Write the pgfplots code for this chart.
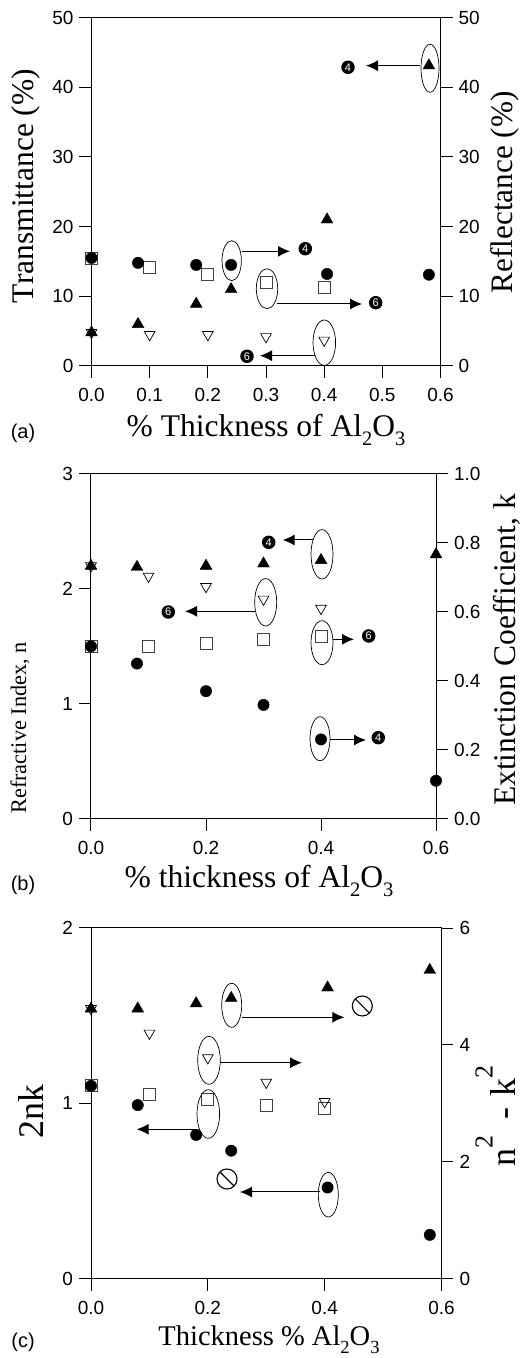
\documentclass[border=0pt]{standalone}
\usepackage{pgfplots}
\pgfplotsset{compat=1.18}
\usepackage{fontspec}
\setmainfont{Liberation Serif}
\newfontfamily\hv{Liberation Sans}
\usetikzlibrary{arrows.meta}
\newcommand{\sbs}[1]{\raisebox{-0.28em}{\scalebox{0.65}{#1}}}
\newcommand{\sps}[1]{\raisebox{0.62em}{\scalebox{0.72}{#1}}}
\pgfplotsset{
  panel/.style={scale only axis, width=#1, clip=false,
    /pgf/number format/assume math mode=true,
    tick align=outside, major tick length=12pt,
    axis line style={line width=1pt}, tick style={line width=1pt,black},
    ticklabel style={font=\hv\fontsize{19}{19}\selectfont},
    xticklabel style={/pgf/number format/fixed,/pgf/number format/fixed zerofill,/pgf/number format/precision=1, yshift=-7pt},
    scaled ticks=false},
  lft/.style={yticklabel style={xshift=-2.5pt}},
  rgt/.style={yticklabel style={xshift=2.5pt}},
  fc/.style={only marks, mark=*, mark size=5.7pt, mark options={fill=black,draw=black}},
  ft/.style={only marks, mark=triangle*, mark size=6.8pt, mark options={fill=black,draw=black}},
  os/.style={only marks, mark=square, mark size=6pt, mark options={draw=black!75,line width=0.7pt}},
  ot/.style={only marks, mark=triangle, mark size=6.2pt, mark options={draw=black,rotate=180,line width=0.7pt}},
}
\tikzset{
  arr/.style={line width=1pt,-{Latex[length=12pt,width=11pt]}},
  ell/.style={line width=0.7pt},
  num/.style={circle,fill=black,inner sep=0pt,minimum size=13.5pt,text=white,font=\hv\fontsize{11}{11}\selectfont},
}
\begin{document}
\begin{tikzpicture}
\path[use as bounding box] (0pt,0pt) rectangle (520pt,1358pt);
% ---- (a)
\begin{axis}[panel=349pt, lft, height=348.5pt, at={(91.5pt,992pt)}, anchor=south west,
  xmin=0,xmax=0.6,ymin=0,ymax=50, ytick={0,10,...,50},
  tick pos=left, xticklabels={0.0,0.1,0.2,0.3,0.4,0.5,0.6}, xtick={0,0.1,0.2,0.3,0.4,0.5,0.6}]
\addplot[ot] coordinates {(0,4.8)(0.1,4.5)(0.2,4.5)(0.3,4.2)(0.4,3.7)};
\addplot[ft] coordinates {(0,4.8)(0.08,6.0)(0.18,8.9)(0.24,11)(0.405,21)(0.58,43.1)};
\end{axis}
\begin{axis}[panel=349pt, rgt, height=348.5pt, at={(91.5pt,992pt)}, anchor=south west,
  xmin=0,xmax=0.6,ymin=0,ymax=50, ytick={0,10,...,50},
  axis x line=none, axis y line*=right]
\addplot[os] coordinates {(0,15.5)(0.1,14.2)(0.2,13.2)(0.3,12)(0.4,11.3)};
\addplot[fc] coordinates {(0,15.5)(0.08,14.8)(0.18,14.5)(0.24,14.5)(0.405,13.2)(0.58,13.1)};
\end{axis}
% ---- (b)
\begin{axis}[panel=345pt, lft, height=344.7pt, at={(91pt,539.3pt)}, anchor=south west,
  xmin=0,xmax=0.6,ymin=0,ymax=3, xtick={0,0.2,0.4,0.6}, xticklabels={0.0,0.2,0.4,0.6}, ytick={0,1,2,3},
  tick pos=left]
\addplot[ot] coordinates {(0,2.2)(0.1,2.11)(0.2,2.02)(0.3,1.91)(0.4,1.83)};
\addplot[ft] coordinates {(0,2.2)(0.08,2.19)(0.2,2.2)(0.3,2.22)(0.4,2.25)(0.6,2.3)};
\end{axis}
\begin{axis}[panel=345pt, rgt, height=344.7pt, at={(91pt,539.3pt)}, anchor=south west,
  xmin=0,xmax=0.6,ymin=0,ymax=1, ytick={0,0.2,0.4,0.6,0.8,1.0},
  yticklabels={0.0,0.2,0.4,0.6,0.8,1.0},
  axis x line=none, axis y line*=right]
\addplot[os] coordinates {(0,0.5)(0.1,0.5)(0.2,0.51)(0.3,0.52)(0.4,0.53)};
\addplot[fc] coordinates {(0,0.5)(0.08,0.45)(0.2,0.37)(0.3,0.33)(0.4,0.23)(0.6,0.11)};
\end{axis}
% ---- (c)
\begin{axis}[panel=350.5pt, lft, height=350.7pt, at={(91pt,79.3pt)}, anchor=south west,
  xmin=0,xmax=0.6,ymin=0,ymax=2, xtick={0,0.2,0.4,0.6}, xticklabels={0.0,0.2,0.4,0.6}, ytick={0,1,2},
  tick pos=left]
\addplot[os] coordinates {(0,1.1)(0.1,1.05)(0.2,1.02)(0.3,0.99)(0.4,0.97)};
\addplot[fc] coordinates {(0,1.1)(0.08,0.99)(0.18,0.82)(0.24,0.73)(0.405,0.52)(0.58,0.25)};
\end{axis}
\begin{axis}[panel=350.5pt, rgt, height=350.7pt, at={(91pt,79.3pt)}, anchor=south west,
  xmin=0,xmax=0.6,ymin=0,ymax=6, ytick={0,2,4,6},
  axis x line=none, axis y line*=right]
\addplot[ot] coordinates {(0,4.62)(0.1,4.2)(0.2,3.78)(0.3,3.36)(0.4,3.03)};
\addplot[ft] coordinates {(0,4.62)(0.08,4.62)(0.18,4.71)(0.24,4.8)(0.405,4.98)(0.58,5.28)};
\end{axis}
% ---- annotations in image pixels
\begin{scope}[x=1pt,y=-1pt,yshift=1358pt]
% a
\draw[ell] (430,68.3) ellipse (9 and 24);
\draw[ell] (231.7,260.7) ellipse (9.7 and 20);
\draw[ell] (267,288.7) ellipse (10.7 and 20);
\draw[ell] (324.3,342.7) ellipse (11.3 and 22.7);
\draw[arr] (420,65.7)--(366,65.7);
\draw[arr] (241.7,251.3)--(290,251.3);
\draw[arr] (276.7,304)--(362,304);
\draw[arr] (315,355.7)--(260,355.7);
\node[num] at (348,67.3) {4};
\node[num] at (305.3,248.7) {4};
\node[num] at (375.7,302.7) {6};
\node[num] at (247,356.3) {6};
\node[font=\hv\fontsize{20}{20}\selectfont] at (23,433) {(a)};
\node[font=\fontsize{31.5}{31.5}\selectfont] at (266,430) {\% Thickness of Al\sbs{2}O\sbs{3}};
\node[rotate=90,font=\fontsize{31.5}{31.5}\selectfont] at (26,186) {Transmittance (\%)};
\node[rotate=90,font=\fontsize{31.2}{31.2}\selectfont] at (505,192.5) {Reflectance (\%)};
% b
\draw[ell] (322,554.3) ellipse (11 and 24.7);
\draw[ell] (265.7,602.3) ellipse (11 and 23.7);
\draw[ell] (322,642.7) ellipse (11 and 22);
\draw[ell] (320,738.7) ellipse (10 and 22);
\draw[arr] (312.7,540)--(282.7,540);
\draw[arr] (255,611.3)--(185,611.3);
\draw[arr] (333.3,639.3)--(354,639.3);
\draw[arr] (330,740)--(366,740);
\node[num] at (268.7,542.3) {4};
\node[num] at (168.3,612) {6};
\node[num] at (368.7,636) {6};
\node[num] at (378.3,737.7) {4};
\node[font=\hv\fontsize{20}{20}\selectfont] at (23,885) {(b)};
\node[font=\fontsize{31.6}{31.6}\selectfont] at (259,881) {\% thickness of Al\sbs{2}O\sbs{3}};
\node[rotate=90,font=\fontsize{22.3}{22.3}\selectfont] at (20,728) {Refractive Index, n};
\node[rotate=90,font=\fontsize{31.5}{31.5}\selectfont] at (507,650) {Extinction Coefficient, k};
% c
\draw[ell] (231.7,1005.3) ellipse (10 and 22);
\draw[ell] (209,1060.3) ellipse (11.3 and 24);
\draw[ell] (208.3,1114) ellipse (11.3 and 24.3);
\draw[ell] (328.3,1194.7) ellipse (10 and 22.3);
\draw[arr] (241.7,1017.3)--(344.3,1017.3);
\draw[arr] (220,1062.7)--(302,1062.7);
\draw[arr] (196.7,1129.3)--(136.7,1129.3);
\draw[arr] (320,1192)--(240,1192);
\draw[line width=1.1pt] (362.3,1006) circle (10);
\draw[line width=1.1pt] (355.2,998.9)--(369.4,1013.1);
\draw[line width=1.1pt] (227,1179) circle (10);
\draw[line width=1.1pt] (219.9,1171.9)--(234.1,1186.1);
\node[font=\hv\fontsize{20}{20}\selectfont] at (23,1342) {(c)};
\node[font=\fontsize{28.5}{28.5}\selectfont] at (269,1340) {Thickness \% Al\sbs{2}O\sbs{3}};
\node[rotate=90,font=\fontsize{36}{36}\selectfont] at (31,1112) {2nk};
\node[rotate=90,anchor=base,font=\fontsize{36}{36}\selectfont] at (515,1116) {n\sps{2}\hspace{0.45em}-\hspace{0.3em}k\sps{2}};
\end{scope}
\end{tikzpicture}
\end{document}
